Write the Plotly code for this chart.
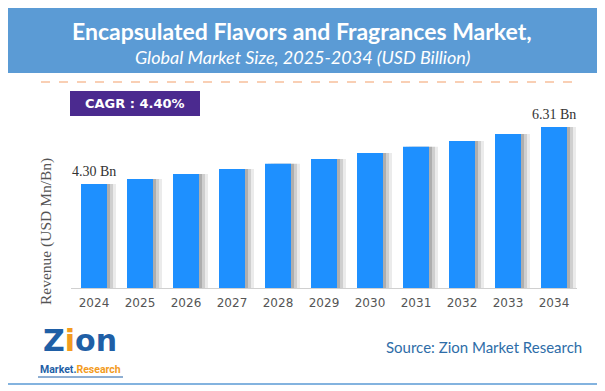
import plotly.graph_objects as go

years = ["2024", "2025", "2026", "2027", "2028", "2029", "2030", "2031", "2032", "2033", "2034"]
revenue = [4.30, 4.48, 4.65, 4.83, 5.01, 5.18, 5.39, 5.61, 5.82, 6.06, 6.31]
labeled_idx = [0, 10]
title_main = "Encapsulated Flavors and Fragrances Market,"
title_sub = "Global Market Size, 2025-2034 (USD Billion)"
cagr_text = "CAGR : 4.40%"
y_title = "Revenue (USD Mn/Bn)"
source_text = "Source: Zion Market Research"

# page has an 8px body margin; figure is sized so that it fits the 605x391 window
OFF = 8
W, H = 605 - OFF, 391 - OFF
# plot area in page pixels: x 71..577, y 120..288
L, R, T, B = 71 - OFF, W - (577 - OFF), 120 - OFF, H - (288 - OFF)
PW, PH = W - L - R, H - T - B


def X(px):  # page pixel -> paper
    return (px - OFF - L) / PW


def Y(py):
    return (H - B - (py - OFF)) / PH


pos = list(range(len(years)))
BAR_W = 0.565
BAR_OFF = -BAR_W / 2
px_unit = 1 / (PW / len(years))

fig = go.Figure()

# soft drop shadow layers
for d, a in [(9, 0.10), (6, 0.16), (3, 0.22)]:
    fig.add_trace(go.Bar(
        x=pos, y=revenue, width=BAR_W, offset=BAR_OFF + d * px_unit,
        marker=dict(color=f"rgba(60,60,60,{a})", line=dict(width=0)),
        hoverinfo="skip", showlegend=False))

fig.add_trace(go.Bar(
    x=pos, y=revenue, width=BAR_W, offset=BAR_OFF,
    marker=dict(color="#1E90FF", line=dict(width=0)),
    showlegend=False))

shapes = [
    dict(type="rect", xref="paper", yref="paper", x0=X(6), x1=X(598), y0=Y(6), y1=Y(384),
         line=dict(color="#5B9BD5", width=1.5), fillcolor="rgba(0,0,0,0)", layer="below"),
    dict(type="rect", xref="paper", yref="paper", x0=X(6), x1=X(598), y0=Y(6), y1=Y(73),
         line=dict(width=0), fillcolor="#5B9BD5", layer="below"),
    dict(type="line", xref="paper", yref="paper", x0=X(41), x1=X(581), y0=Y(82), y1=Y(82),
         line=dict(color="#F4A06A", width=1.2, dash="dash")),
    dict(type="rect", xref="paper", yref="paper", x0=X(70), x1=X(200), y0=Y(91), y1=Y(116),
         line=dict(width=0), fillcolor="#4B2A8F"),
    dict(type="line", xref="paper", yref="paper", x0=X(38), x1=X(123), y0=Y(377), y1=Y(377),
         line=dict(color="#1F5FA6", width=1)),
]


def ann(text, x, y, size, color, family, **kw):
    d = dict(text=text, x=X(x), y=Y(y), xref="paper", yref="paper", showarrow=False,
             xanchor="center", yanchor="middle",
             font=dict(family=family, size=size, color=color))
    d.update(kw)
    return d


annotations = [
    ann(f"<b>{title_main}</b>", 302, 31, 23, "white", "Lato"),
    ann(f"<i>{title_sub}</i>", 302, 57, 18, "white", "Lato"),
    ann(f"<b>{cagr_text}</b>", 135, 103.5, 13, "white", "DejaVu Sans"),
    ann(y_title, 46, 232, 15.5, "#555555", "Liberation Serif", textangle=-90),
    ann(source_text, 483.5, 347, 15, "#2E6DA8", "Lato"),
    ann("<b><span style='color:#1F5FA6'>Z</span><span style='color:#F39C1E'>i</span>"
        "<span style='color:#1F5FA6'>on</span></b>", 80, 340, 30, "#1F5FA6", "DejaVu Sans"),
    ann("<b><span style='color:#1F5FA6'>Market.</span><span style='color:#F39C1E'>Research</span></b>",
        80, 369, 10.5, "#1F5FA6", "Roboto"),
]

for i in labeled_idx:
    annotations.append(dict(
        text=f"{revenue[i]:.2f} Bn", x=pos[i], y=revenue[i], xref="x", yref="y",
        xanchor="center", yanchor="bottom", yshift=3, showarrow=False,
        font=dict(family="Liberation Serif", size=14, color="#333333")))

fig.update_layout(
    width=W, height=H,
    margin=dict(l=L, r=R, t=T, b=B),
    paper_bgcolor="white", plot_bgcolor="white",
    barmode="overlay",
    shapes=shapes, annotations=annotations,
    xaxis=dict(type="linear", range=[-0.5, len(years) - 0.5], tickmode="array",
               tickvals=pos, ticktext=years, showline=True, linecolor="#D0D0D0", linewidth=1,
               showgrid=False, zeroline=False, ticks="", fixedrange=True, ticklabelstandoff=4,
               tickfont=dict(family="DejaVu Sans", size=12, color="#555555")),
    yaxis=dict(visible=False, range=[0.633, 6.557], fixedrange=True),
)

fig.write_html("out.html")
